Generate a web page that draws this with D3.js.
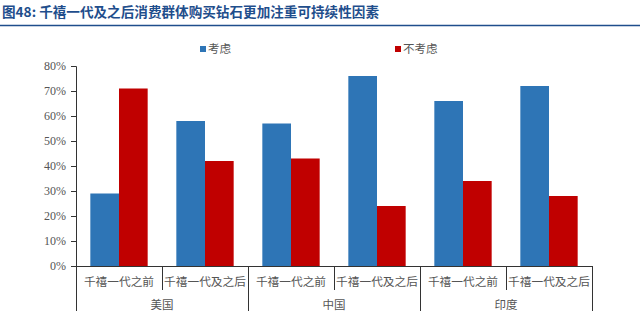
<!DOCTYPE html>
<html>
<head>
<meta charset="utf-8">
<script src="https://cdn.jsdelivr.net/npm/d3@7"></script>
<style>
  body { margin: 0; background: #fff; }
  svg { display: block; }
</style>
</head>
<body>
<svg></svg>
<script>
const width = 640;
const height = 311;

// data
const countries = ["美国", "中国", "印度"];
const generations = ["千禧一代之前", "千禧一代及之后"];
const seriesNames = ["考虑", "不考虑"];
const consider = [29, 58, 57, 76, 66, 72];
const notConsider = [71, 42, 43, 24, 34, 28];
const yTicks = [0, 10, 20, 30, 40, 50, 60, 70, 80];

const colors = ["#2E75B6", "#C00000"];
const titleText = "图48: 千禧一代及之后消费群体购买钻石更加注重可持续性因素";

let svg = d3.select("svg")
  .attr("width", width)
  .attr("height", height)
  .attr("viewBox", `0 0 ${width} ${height}`);

// title + rule
svg.append("text")
  .attr("x", 2)
  .attr("y", 17)
  .attr("fill", "#1F4E8C")
  .attr("font-family", "'Noto Sans CJK SC', sans-serif")
  .attr("font-weight", "bold")
  .attr("font-size", 13.6)
  .text(titleText);

svg.append("line")
  .attr("x1", 0).attr("x2", width)
  .attr("y1", 25.5).attr("y2", 25.5)
  .attr("stroke", "#1F4E8C")
  .attr("stroke-width", 1.5);

// build rows
const rows = [];
countries.forEach((c, i) => {
  generations.forEach((g, j) => {
    const k = i * generations.length + j;
    rows.push({ key: c + "|" + g, country: c, gen: g, values: [consider[k], notConsider[k]] });
  });
});

const plotLeft = 76, plotRight = 592, plotTop = 66, plotBottom = 266;

let x = d3.scaleBand()
  .domain(rows.map(d => d.key))
  .range([plotLeft, plotRight])
  .paddingInner(0)
  .paddingOuter(0);

let xInner = d3.scaleBand()
  .domain(seriesNames)
  .range([0, x.bandwidth()])
  .paddingInner(0)
  .paddingOuter(0.5);

let y = d3.scaleLinear()
  .domain([0, 80])
  .range([plotBottom, plotTop]);

// bars
let groups = svg.append("g")
  .selectAll("g")
  .data(rows)
  .enter()
  .append("g")
  .attr("transform", d => `translate(${x(d.key)},0)`);

groups.selectAll("rect")
  .data(d => d.values.map((v, i) => ({ name: seriesNames[i], value: v, i: i })))
  .enter()
  .append("rect")
  .attr("x", d => xInner(d.name))
  .attr("width", xInner.bandwidth())
  .attr("y", d => y(d.value))
  .attr("height", d => y(0) - y(d.value))
  .attr("fill", d => colors[d.i]);

// y axis
let yAxis = d3.axisLeft(y)
  .tickValues(yTicks)
  .tickFormat(d => d + "%")
  .tickSize(5)
  .tickPadding(5);

let yg = svg.append("g")
  .attr("transform", `translate(${plotLeft},0)`)
  .call(yAxis);
yg.select(".domain").attr("stroke", "#333");
yg.selectAll(".tick line").attr("stroke", "#333");
yg.selectAll("text")
  .attr("fill", "#555")
  .attr("font-family", "'Liberation Serif', serif")
  .attr("font-size", 12);

// x axis baseline
svg.append("line")
  .attr("x1", plotLeft).attr("x2", plotRight)
  .attr("y1", plotBottom + 0.5).attr("y2", plotBottom + 0.5)
  .attr("stroke", "#333");

// separators between categories
let xg = svg.append("g");
rows.forEach((d, k) => {
  const xx = Math.round(x(d.key)) + 0.5;
  const major = k % generations.length === 0;
  xg.append("line")
    .attr("x1", xx).attr("x2", xx)
    .attr("y1", plotBottom)
    .attr("y2", major ? height : 290)
    .attr("stroke", "#333");
});
xg.append("line")
  .attr("x1", plotRight + 0.5).attr("x2", plotRight + 0.5)
  .attr("y1", plotBottom).attr("y2", height)
  .attr("stroke", "#333");

xg.selectAll("text.gen")
  .data(rows)
  .enter()
  .append("text")
  .attr("class", "gen")
  .attr("x", d => x(d.key) + x.bandwidth() / 2)
  .attr("y", 286)
  .attr("text-anchor", "middle")
  .attr("fill", "#555")
  .attr("font-family", "'Noto Sans CJK SC', sans-serif")
  .attr("font-size", 11.7)
  .text(d => d.gen);

xg.selectAll("text.country")
  .data(countries)
  .enter()
  .append("text")
  .attr("class", "country")
  .attr("x", d => x(d + "|" + generations[0]) + x.bandwidth())
  .attr("y", 309)
  .attr("text-anchor", "middle")
  .attr("fill", "#555")
  .attr("font-family", "'Noto Sans CJK SC', sans-serif")
  .attr("font-size", 11.5)
  .text(d => d);

// legend
const legendX = [203, 398];
let legend = svg.append("g")
  .selectAll("g")
  .data(seriesNames)
  .enter()
  .append("g")
  .attr("transform", (d, i) => `translate(${legendX[i]},49)`);

legend.append("rect")
  .attr("x", -3).attr("y", -3)
  .attr("width", 6).attr("height", 6)
  .attr("fill", (d, i) => colors[i]);

legend.append("text")
  .attr("x", 5)
  .attr("y", 4)
  .attr("fill", "#555")
  .attr("font-family", "'Noto Sans CJK SC', sans-serif")
  .attr("font-size", 11.5)
  .text(d => d);
</script>
</body>
</html>
